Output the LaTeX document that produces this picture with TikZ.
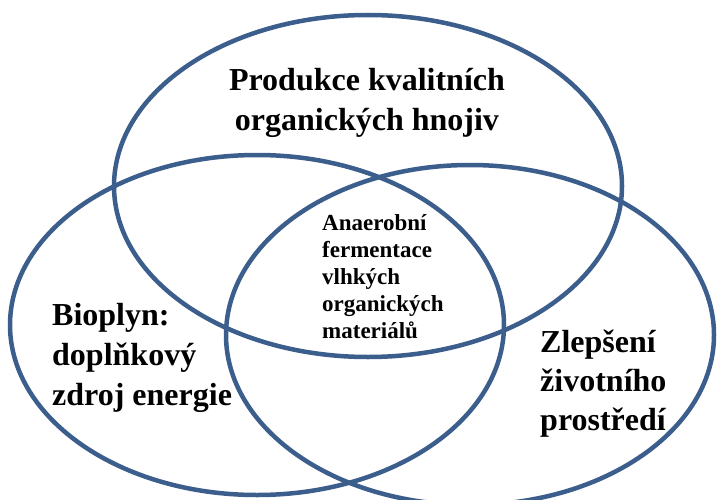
\documentclass[tikz,border=0pt]{standalone}
\usepackage{fontspec}
\setmainfont{Liberation Serif}
\definecolor{ringblue}{RGB}{59,94,140}
\tikzset{
  ring/.style={draw=ringblue, line width=4.5pt},
  bigtxt/.style={font=\bfseries\fontsize{32}{40}\selectfont, inner sep=0pt},
  smalltxt/.style={font=\bfseries\fontsize{23}{27}\selectfont, inner sep=0pt, align=left, anchor=west}
}
\begin{document}
\begin{tikzpicture}[x=1pt,y=-1pt]
\useasboundingbox (0,0) rectangle (717,500);
\clip (0,0) rectangle (717,500);
\draw[ring] (368,186) ellipse [x radius=254pt, y radius=171pt];
\draw[ring] (257,325) ellipse [x radius=247pt, y radius=170pt];
\draw[ring] (470,335) ellipse [x radius=244pt, y radius=170pt];
\node[bigtxt, align=center] (top) at (367,103) {Produkce kvalitních\\organických hnojiv};
\node[bigtxt, align=left, anchor=west] (left) at (52,357.5) {Bioplyn:\\doplňkový\\zdroj energie};
\node[bigtxt, align=left, anchor=west, font=\bfseries\fontsize{32}{39}\selectfont] (right) at (540,384) {Zlepšení\\životního\\prostředí};
\node[smalltxt] (mid) at (322,276.5) {Anaerobní\\fermentace\\vlhkých\\organických\\materiálů};
\end{tikzpicture}
\end{document}
